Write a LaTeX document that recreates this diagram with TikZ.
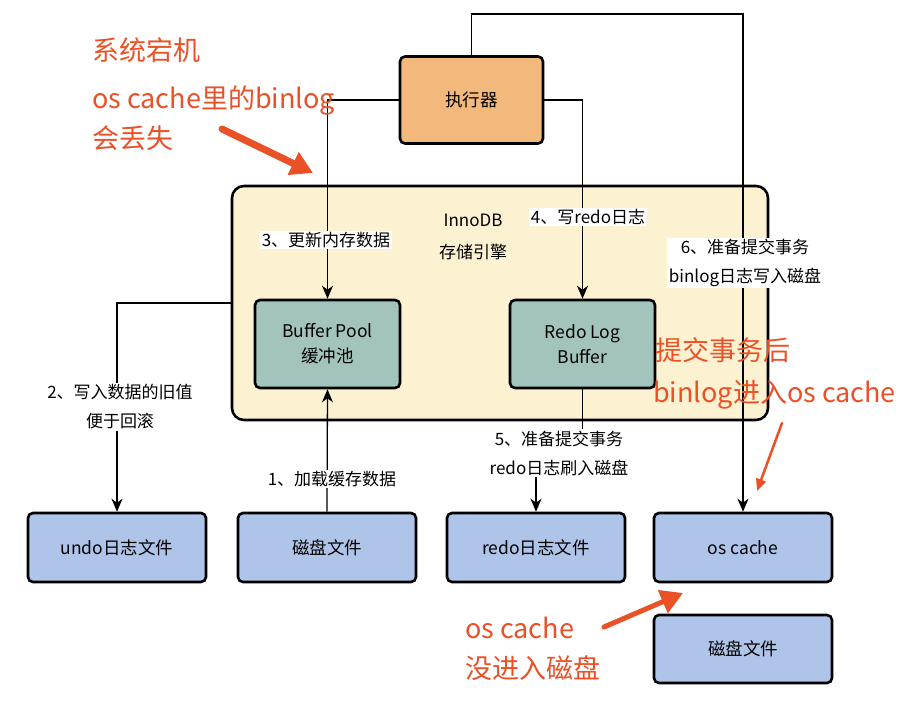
\documentclass[tikz,border=0pt]{standalone}
\usepackage{fontspec}
\setmainfont{Noto Sans CJK SC}
\usetikzlibrary{arrows.meta}
\definecolor{execfill}{HTML}{F2B87C}
\definecolor{innofill}{HTML}{FCF1D1}
\definecolor{tealfill}{HTML}{A3C4BC}
\definecolor{bluefill}{HTML}{AFC4E9}
\definecolor{annored}{HTML}{EB5127}
\tikzset{
  box/.style={draw=black, line width=2.6pt, rounded corners=5pt, inner sep=0pt, align=center,
    font=\fontsize{17.5}{25}\selectfont},
  conn/.style={draw=black, line width=1.3pt},
  arr/.style={conn, -{Stealth[length=13pt,width=11pt,inset=4pt]}},
  lbl/.style={fill=white, inner sep=1.5pt, align=center, font=\fontsize{17}{29}\selectfont},
  anno/.style={text=annored, anchor=west, inner sep=0pt, font=\fontsize{27}{32}\selectfont},
  redarrow/.style={draw=annored, line cap=round, -{Triangle[length=22pt,width=24pt]}}
}
\begin{document}
\begin{tikzpicture}[x=1pt,y=-1pt]
\useasboundingbox[fill=white] (0,0) rectangle (908,702);

% containers
\node[box, fill=innofill, rounded corners=12pt, minimum width=536pt, minimum height=234pt] (inno) at (500,303) {};
\node[box, fill=execfill, minimum width=143pt, minimum height=87pt] (exec) at (471.5,100) {执行器};
\node[box, fill=tealfill, minimum width=145pt, minimum height=88pt] (bp) at (327.5,344) {Buffer Pool\\缓冲池};
\node[box, fill=tealfill, minimum width=145pt, minimum height=88pt] (rlb) at (582.5,344) {Redo Log\\Buffer};
\node[box, fill=bluefill, minimum width=178pt, minimum height=69pt] (undo) at (117,547.5) {undo日志文件};
\node[box, fill=bluefill, minimum width=178pt, minimum height=69pt] (disk) at (327,547.5) {磁盘文件};
\node[box, fill=bluefill, minimum width=178pt, minimum height=69pt] (redo) at (536,547.5) {redo日志文件};
\node[box, fill=bluefill, minimum width=178pt, minimum height=69pt] (osc) at (743,547.5) {os cache};
\node[box, fill=bluefill, minimum width=178pt, minimum height=68pt] (disk2) at (743,649) {磁盘文件};

\node[align=center, font=\fontsize{17}{32}\selectfont] (innotitle) at (473,237) {InnoDB\\存储引擎};

% connectors
\coordinate (top) at (743,14);
\draw[arr] (exec.west) -| (bp.north);
\draw[arr] (exec.east) -| (rlb.north);
\draw[arr] (exec.north) |- (top) -- (osc.north);
\draw[arr] (inno.west) -| (undo.north);
\draw[arr] (disk.north) -- (bp.south);
\draw[arr] (rlb.south) -- ++(0,65) -| (redo.north);

% connector labels
\node[lbl] (l3) at (326,240) {3、更新内存数据};
\node[lbl] (l4) at (588,217) {4、写redo日志};
\node[lbl] (l6) at (745,263) {6、准备提交事务\\binlog日志写入磁盘};
\node[lbl] (l2) at (120,407) {2、写入数据的旧值\\便于回滚};
\node[lbl] (l1) at (332,479) {1、加载缓存数据};
\node[lbl] (l5) at (559,453) {5、准备提交事务\\redo日志刷入磁盘};

% annotations
\node[anno] (a1) at (92,50) {系统宕机};
\node[anno] (a2) at (92,100) {os cache里的binlog};
\node[anno] (a3) at (92,138) {会丢失};
\node[anno] (b1) at (655,350) {提交事务后};
\node[anno] (b2) at (653,395) {binlog进入os cache};
\node[anno] (c1) at (465,628) {os cache};
\node[anno] (c2) at (465,668) {没进入磁盘};

\coordinate (ra1s) at (222,129);
\coordinate (ra1e) at (313,173);
\coordinate (ra2s) at (782,423);
\coordinate (ra2e) at (757,491);
\coordinate (ra3s) at (604,627);
\coordinate (ra3e) at (683,593);
\draw[redarrow, line width=7pt] (ra1s) -- (ra1e);
\draw[redarrow, line width=2.5pt, -{Triangle[length=12pt,width=10pt]}] (ra2s) -- (ra2e);
\draw[redarrow, line width=5pt] (ra3s) -- (ra3e);
\end{tikzpicture}
\end{document}
